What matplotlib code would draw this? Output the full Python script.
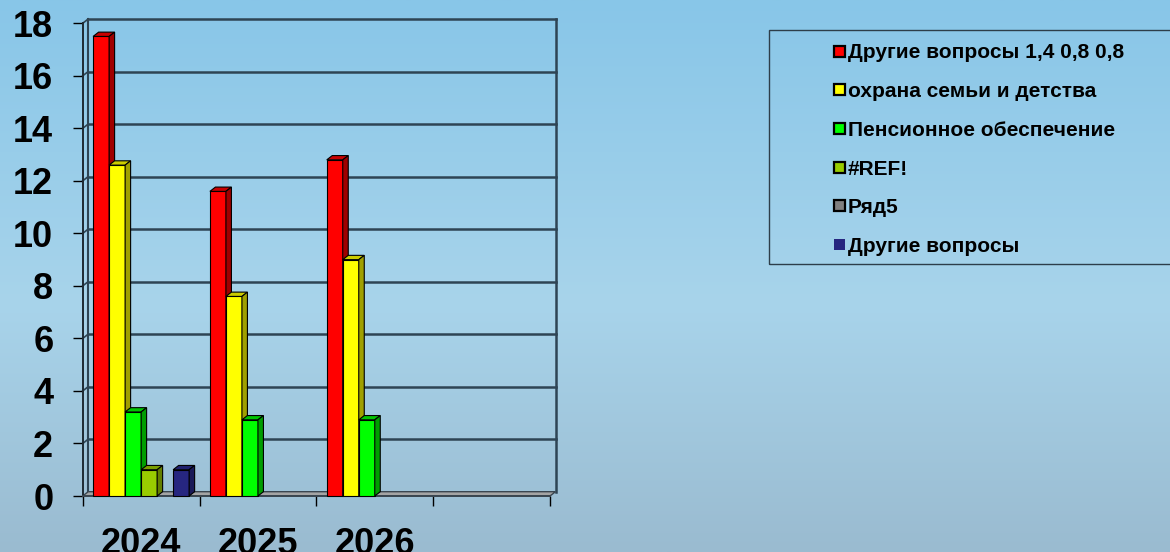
import numpy as np
import matplotlib.pyplot as plt
from matplotlib.patches import Polygon, Rectangle
from matplotlib.colors import LinearSegmentedColormap

plt.rcParams["font.family"] = ["Liberation Sans", "DejaVu Sans"]
plt.rcParams["font.weight"] = "bold"

# data
years = ["2024", "2025", "2026", ""]
series_names = [
    "Другие вопросы 1,4 0,8 0,8",
    "охрана семьи и детства",
    "Пенсионное обеспечение",
    "#REF!",
    "Ряд5",
    "Другие вопросы",
]
other_148 = [17.5, 11.6, 12.8, np.nan]
family = [12.6, 7.6, 9.0, np.nan]
pension = [3.2, 2.9, 2.9, np.nan]
ref_err = [1.0, np.nan, np.nan, np.nan]
row5 = [np.nan, np.nan, np.nan, np.nan]
other = [1.0, np.nan, np.nan, np.nan]
series_vals = [other_148, family, pension, ref_err, row5, other]

# front / top / side colours per series
colors = [
    ("#ff0000", "#c80000", "#a00000"),
    ("#ffff00", "#cccc00", "#a0a000"),
    ("#00ff00", "#00c400", "#009e00"),
    ("#99cc00", "#7a9e00", "#647f00"),
    ("#808080", "#6a6a6a", "#555555"),
    ("#262680", "#20206c", "#1a1a58"),
]

W, H = 1170, 552
fig = plt.figure(figsize=(W / 100, H / 100), dpi=100)

# gradient background
bg = fig.add_axes([0, 0, 1, 1], zorder=-1)
cmap = LinearSegmentedColormap.from_list(
    "sky", [(0, "#88c6e8"), (0.55, "#a8d4eb"), (1, "#9abbd0")])
bg.imshow(np.linspace(0, 1, 256).reshape(-1, 1), aspect="auto", cmap=cmap,
          extent=[0, 1, 0, 1], origin="upper")
bg.axis("off")

# front plane of the 3D box
x_left, x_right, y_bot, y_top = 82.7, 550, 496, 23.3
ax = fig.add_axes([x_left / W, (H - y_bot) / H, (x_right - x_left) / W, (y_bot - y_top) / H])
ax.set_facecolor("none")
ax.set_xlim(0, 4)
ax.set_ylim(0, 18)

# depth offset in data units (~5.5 px right, ~4.3 px up)
DX = 5.5 / ((x_right - x_left) / 4)
DY = 4.3 / ((y_bot - y_top) / 18)

wall = "#2e4454"
yt = np.arange(0, 19, 2)
for y in yt[1:]:
    ax.plot([DX, 4 + DX], [y + DY, y + DY], color=wall, lw=1.8, zorder=1, clip_on=False)
    ax.plot([0, DX], [y, y + DY], color=wall, lw=1.2, zorder=1, clip_on=False)
ax.plot([DX, DX], [DY, 18 + DY], color=wall, lw=1.5, zorder=1, clip_on=False)
ax.plot([4 + DX, 4 + DX], [DY, 18 + DY], color=wall, lw=1.8, zorder=1, clip_on=False)

# floor
ax.add_patch(Polygon([(0, 0), (4, 0), (4 + DX, DY), (DX, DY)], closed=True,
                     fc="#a4a4a4", ec="#3a4650", lw=1.0, zorder=2, clip_on=False))

# bars
n = len(series_vals)
bw = 0.137
start = (1 - n * bw) / 2
x = np.arange(len(years))
for i, (vals, (fc, tc, sc)) in enumerate(zip(series_vals, colors)):
    z = 3 + i
    bars = ax.bar(x + start + i * bw, vals, bw, align="edge", color=fc,
                  edgecolor="black", linewidth=0.8, zorder=z, clip_on=False)
    for r in bars:
        v = r.get_height()
        if not np.isfinite(v):
            continue
        x0, w = r.get_x(), r.get_width()
        ax.add_patch(Polygon([(x0, v), (x0 + w, v), (x0 + w + DX, v + DY), (x0 + DX, v + DY)],
                             closed=True, fc=tc, ec="black", lw=0.8, zorder=z, clip_on=False))
        ax.add_patch(Polygon([(x0 + w, 0), (x0 + w, v), (x0 + w + DX, v + DY), (x0 + w + DX, DY)],
                             closed=True, fc=sc, ec="black", lw=0.8, zorder=z, clip_on=False))

# axes, ticks
for s in ["top", "right"]:
    ax.spines[s].set_visible(False)
ax.spines["left"].set_color("#1e2a33")
ax.spines["left"].set_linewidth(1.4)
ax.spines["bottom"].set_color("#3a4650")
ax.spines["bottom"].set_linewidth(1.4)
ax.spines["left"].set_zorder(2)

ax.set_yticks(yt)
ax.set_yticklabels([str(v) for v in yt])
ax.tick_params(axis="y", direction="out", length=7.2, width=1.0, color="black",
               pad=14, labelsize=26)
ax.set_xticks(np.arange(0, 5))
ax.set_xticklabels([])
ax.set_xticks(x + 0.5, minor=True)
ax.set_xticklabels(years, minor=True)
ax.tick_params(axis="x", which="major", direction="out", length=7.2, width=1.0, color="black")
ax.tick_params(axis="x", which="minor", length=0, pad=22, labelsize=26)

# legend box, partly outside the right edge
fig.add_artist(Rectangle((769 / W, (H - 264) / H), (1180 - 769) / W, 234 / H,
                         transform=fig.transFigure, fc="none", ec="#2d3e4a", lw=1.0))
for i, name in enumerate(series_names):
    yc = 51 + i * 38.7
    if i == n - 1:
        fig.add_artist(Rectangle((834 / W, (H - yc - 5.5) / H), 11 / W, 11 / H,
                                 transform=fig.transFigure, fc=colors[i][0], ec="none"))
    else:
        fig.add_artist(Rectangle((833.5 / W, (H - yc - 5.5) / H), 11 / W, 11 / H,
                                 transform=fig.transFigure, fc=colors[i][0], ec="black", lw=1.6))
    fig.text(848 / W, (H - yc - 7.5) / H, name, fontsize=15, fontweight="bold",
             va="baseline", ha="left")

fig.savefig("out.png", dpi=100)
